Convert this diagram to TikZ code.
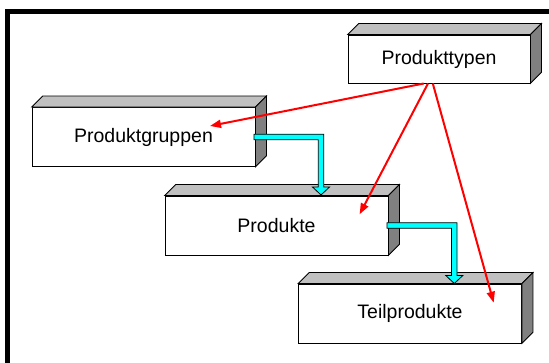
\documentclass[tikz,border=0pt]{standalone}
\usepackage{fontspec}
\setmainfont{Liberation Sans}
\usetikzlibrary{arrows.meta,calc}

\definecolor{boxtop}{HTML}{C0C0C0}
\definecolor{boxside}{HTML}{808080}
\definecolor{flowcyan}{RGB}{0,255,255}

\tikzset{
  box/.style={draw, line width=0.8pt, fill=white, inner sep=0pt,
    minimum width=223pt, minimum height=59pt,
    font=\fontsize{19.5}{23}\selectfont},
  topface/.style={draw, line width=0.8pt, fill=boxtop},
  sideface/.style={draw, line width=0.8pt, fill=boxside},
  link/.style={draw=red, line width=2pt, -{Triangle[length=11pt,width=8pt]}},
  flow/.style={draw=black, line width=0.8pt, fill=flowcyan},
}

% thick cyan arrow: right from #1, then down to the tip #2
\newcommand\flowarrow[2]{%
  \path[flow] let \p1=(#1), \p2=(#2) in
    (\x1,\y1+2.75pt) -- (\x2+2.75pt,\y1+2.75pt) -- (\x2+2.75pt,\y2+8pt)
    -- (\x2+8.5pt,\y2+8pt) -- (\x2,\y2) -- (\x2-8.5pt,\y2+8pt)
    -- (\x2-2.75pt,\y2+8pt) -- (\x2-2.75pt,\y1-2.75pt) -- (\x1,\y1-2.75pt) -- cycle;}

\begin{document}
\begin{tikzpicture}[x=1pt,y=-1pt]
\useasboundingbox (0,0) rectangle (549,363);
\clip (0,0) rectangle (549,363);
\draw[line width=5pt] (7.5,380) -- (7.5,11.5) -- (570,11.5);

\node[box, minimum width=182pt, minimum height=48pt] (typen) at (439,59) {Produkttypen};
\node[box] (gruppen) at (143.5,137) {Produktgruppen};
\node[box] (produkte) at (276.5,225.5) {Produkte};
\node[box] (teil) at (410,313.5) {Teilprodukte};

\foreach \n in {typen,gruppen,produkte,teil} {
  \path[topface] (\n.north west) -- ++(11,-11) -- ([shift={(11,-11)}]\n.north east)
    -- (\n.north east) -- cycle;
  \path[sideface] (\n.north east) -- ++(11,-11) -- ([shift={(11,-11)}]\n.south east)
    -- (\n.south east) -- cycle;
}

\coordinate (g1) at ([xshift=-1.5pt]gruppen.east);
\coordinate (p1) at (321,195);
\coordinate (g2) at ([xshift=-1.5pt]produkte.east);
\coordinate (p2) at (454.3,283.5);
\flowarrow{g1}{p1}
\flowarrow{g2}{p2}

\coordinate (s1) at (423.7,83.5);
\coordinate (s2) at (428,83.5);
\coordinate (s3) at (432.8,83.5);
\coordinate (t1) at (210,126);
\coordinate (t2) at (359.6,214.3);
\coordinate (t3) at (493.7,302.7);

\path
(s1) edge[link] (t1)
(s2) edge[link] (t2)
(s3) edge[link] (t3);
\end{tikzpicture}
\end{document}
